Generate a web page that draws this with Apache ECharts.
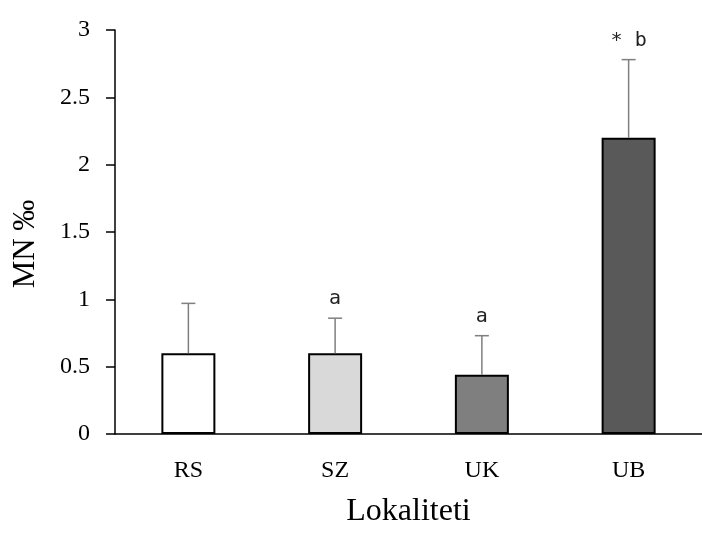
<!DOCTYPE html>
<html>
<head>
<meta charset="utf-8">
<script src="https://cdn.jsdelivr.net/npm/echarts@6/dist/echarts.min.js"></script>
<style>html,body{margin:0;padding:0;background:#fff}#c{width:702px;height:533px}</style>
</head>
<body>
<div id="c"></div>
<script>
const categories = ['RS', 'SZ', 'UK', 'UB'];
const means = [0.60, 0.60, 0.44, 2.20];
const errors = [0.37, 0.26, 0.29, 0.58];
const annotations = ['', 'a', 'a', '* b'];
const barColors = ['#ffffff', '#d9d9d9', '#7f7f7f', '#595959'];
const yTicks = [0, 0.5, 1, 1.5, 2, 2.5, 3];

const chart = echarts.init(document.getElementById('c'));
const serif = '"Liberation Serif", "Times New Roman", serif';

chart.setOption({
  animation: false,
  backgroundColor: '#ffffff',
  grid: { left: 115, right: -10, top: 30, bottom: 90, containLabel: false },
  xAxis: {
    type: 'category',
    data: categories,
    name: 'Lokaliteti',
    nameLocation: 'middle',
    nameGap: 62,
    nameTextStyle: { fontFamily: serif, fontSize: 32, color: '#000' },
    axisLine: { lineStyle: { color: '#000', width: 1.5 } },
    axisTick: { show: false },
    axisLabel: { fontFamily: serif, fontSize: 24, color: '#000', margin: 25 }
  },
  yAxis: {
    type: 'value',
    min: yTicks[0],
    max: yTicks[yTicks.length - 1],
    interval: 0.5,
    name: 'MN ‰',
    nameLocation: 'middle',
    nameGap: 74,
    nameRotate: 90,
    nameTextStyle: { fontFamily: serif, fontSize: 31, color: '#000', padding: [0, 24, 0, 0] },
    axisLine: { show: true, lineStyle: { color: '#000', width: 1.5 } },
    axisTick: { show: true, length: 9, lineStyle: { color: '#000', width: 1.5 } },
    splitLine: { show: false },
    axisLabel: { fontFamily: serif, fontSize: 24, color: '#000', margin: 25 }
  },
  series: [
    {
      type: 'bar',
      barWidth: 54,
      data: means.map((v, i) => ({
        value: v,
        itemStyle: { color: barColors[i], borderColor: '#000', borderWidth: 2 }
      })),
      z: 2
    },
    {
      type: 'custom',
      z: 3,
      data: means.map((v, i) => [i, v, v + errors[i], annotations[i]]),
      renderItem: function (params, api) {
        const x = api.coord([api.value(0), 0])[0];
        const yLow = api.coord([api.value(0), api.value(1)])[1];
        const yHigh = api.coord([api.value(0), api.value(2)])[1];
        const cap = 7;
        const style = { stroke: '#7f7f7f', lineWidth: 1.5 };
        const children = [
          { type: 'line', shape: { x1: x, y1: yLow, x2: x, y2: yHigh }, style: style },
          { type: 'line', shape: { x1: x - cap, y1: yHigh, x2: x + cap, y2: yHigh }, style: style }
        ];
        const txt = api.value(3);
        if (txt) {
          children.push({
            type: 'text',
            style: {
              text: txt, x: x, y: yHigh - 9,
              align: 'center', verticalAlign: 'bottom',
              font: '20px "DejaVu Sans Mono", monospace', fill: '#222'
            }
          });
        }
        return { type: 'group', children: children };
      }
    }
  ]
});
</script>
</body>
</html>
